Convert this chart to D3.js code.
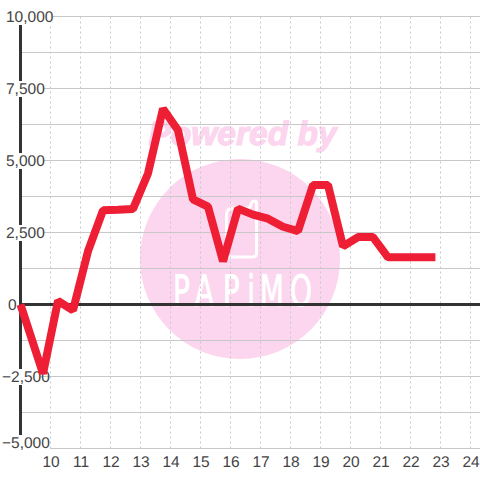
<!DOCTYPE html>
<html>
<head>
<meta charset="utf-8">
<script src="https://cdn.jsdelivr.net/npm/d3@7"></script>
<style>
  html, body { margin: 0; padding: 0; background: #fff; }
  svg { display: block; }
  text { font-family: "Liberation Sans", sans-serif; text-rendering: geometricPrecision; }
</style>
</head>
<body>
<div id="chart"></div>
<script>
// hours on the x axis, balance on the y axis
var hours = [9, 9.75, 10.25, 10.75, 11.25, 11.75, 12.25, 12.75, 13.25, 13.75, 14.25, 14.75, 15.25, 15.75, 16.25, 16.75, 17.25, 17.75, 18.25, 18.75, 19.25, 19.75, 20.25, 20.75, 21.25, 21.75, 22.25, 22.83];
var values = [0, -2400, 130, -200, 1850, 3270, 3290, 3320, 4550, 6800, 6050, 3650, 3400, 1500, 3330, 3120, 2980, 2700, 2550, 4150, 4150, 2020, 2340, 2340, 1640, 1640, 1640, 1640];
var xTicks = [10, 11, 12, 13, 14, 15, 16, 17, 18, 19, 20, 21, 22, 23, 24];
var yLabels = [10000, 7500, 5000, 2500, 0, -2500, -5000];
var yGrid = [8750, 6250, 3750, 1250, -1250, -3750];

const size = 480;
const axisColor = "#333";
const labelColor = "#444";
const gridColor = "#c8c8c8";
const lineColor = "#ee1f35";
const markColor = "#fcd5ee";

var x = d3.scaleLinear().domain([9, 24]).range([20.5, 470.5]);
var y = d3.scaleLinear().domain([-5000, 10000]).range([448.5, 16.5]);

var svg = d3.select("#chart").append("svg")
  .attr("width", size)
  .attr("height", size);

// watermark sits under the grid
var mark = svg.append("g");
mark.append("circle").attr("cx", 240).attr("cy", 259).attr("r", 100).attr("fill", markColor);
mark.append("text")
  .attr("x", 242.5).attr("y", 145)
  .attr("text-anchor", "middle")
  .attr("font-size", 33.5).attr("font-weight", "bold").attr("font-style", "italic")
  .attr("fill", markColor)
  .attr("stroke", markColor).attr("stroke-width", 1.2)
  .text("Powered by");
mark.append("path")
  .attr("d", "M226.5 215 q0 -7 7 -7 h16 l2 -5 q1 -2 3 -2 q2 0 2 2 v50 q0 4 -4 4 h-22 q-4 0 -4 -4 z")
  .attr("fill", "none").attr("stroke", "#fff").attr("stroke-width", 3);
mark.append("text")
  .attr("transform", "translate(173,306) scale(0.7,1.08)")
  .attr("x", "0 31 71 106 124 167")
  .style("font-family", "'DejaVu Sans'")
  .attr("font-size", 40)
  .attr("fill", "#fff")
  .attr("stroke", "#fff").attr("stroke-width", 0.8)
  .text("PAPiMO");

// grid
svg.append("g").selectAll("line.h")
  .data(yGrid.concat(yLabels.filter(d => d !== 0 && d !== -5000)))
  .enter().append("line")
  .attr("class", "h")
  .attr("x1", 20).attr("x2", size)
  .attr("y1", d => y(d)).attr("y2", d => y(d))
  .attr("stroke", gridColor).attr("stroke-width", 1.2);

svg.append("line")
  .attr("x1", 50).attr("x2", size)
  .attr("y1", y(-5000)).attr("y2", y(-5000))
  .attr("stroke", gridColor).attr("stroke-width", 1.2);

svg.append("g").selectAll("line.v")
  .data(xTicks)
  .enter().append("line")
  .attr("class", "v")
  .attr("x1", d => x(d)).attr("x2", d => x(d))
  .attr("y1", y(10000)).attr("y2", y(-5000))
  .attr("stroke", gridColor).attr("stroke-dasharray", "2,3");

// axis lines
svg.append("line")
  .attr("x1", x(9)).attr("x2", x(9))
  .attr("y1", y(10000)).attr("y2", y(-5000))
  .attr("stroke", axisColor).attr("stroke-width", 3);
svg.append("line")
  .attr("x1", x(9)).attr("x2", size)
  .attr("y1", y(0)).attr("y2", y(0))
  .attr("stroke", axisColor).attr("stroke-width", 3);

// y labels have a white box behind them which cuts the axis and the grid
var yAxis = svg.append("g")
  .call(d3.axisLeft(y).tickValues(yLabels).tickSize(0).tickFormat(d3.format(",")));
yAxis.select(".domain").remove();
yAxis.selectAll("text")
  .attr("text-anchor", "start")
  .attr("fill", labelColor)
  .attr("font-size", 15.5)
  .attr("x", d => d === 0 ? 8 : (d < 0 ? 2 : 6))
  .attr("dy", d => d === -5000 ? "-0.08em" : "0.34em");
yAxis.selectAll(".tick").filter(d => d !== 0).insert("rect", "text")
  .attr("x", d => d < 0 ? 2 : 6)
  .attr("y", d => d === -5000 ? -14 : -8)
  .attr("width", d => d === 10000 ? 47 : 38)
  .attr("height", 16)
  .attr("fill", "#fff");

var xAxis = svg.append("g")
  .attr("transform", "translate(0," + y(-5000) + ")")
  .call(d3.axisBottom(x).tickValues(xTicks).tickSize(0).tickPadding(7));
xAxis.select(".domain").remove();
xAxis.selectAll("text").attr("fill", labelColor).attr("font-size", 15.5);

// the balance line
var line = d3.line().x((d, i) => x(hours[i])).y(d => y(d));
svg.append("path")
  .datum(values)
  .attr("d", line)
  .attr("fill", "none")
  .attr("stroke", lineColor)
  .attr("stroke-width", 8)
  .attr("stroke-linejoin", "bevel");
</script>
</body>
</html>
